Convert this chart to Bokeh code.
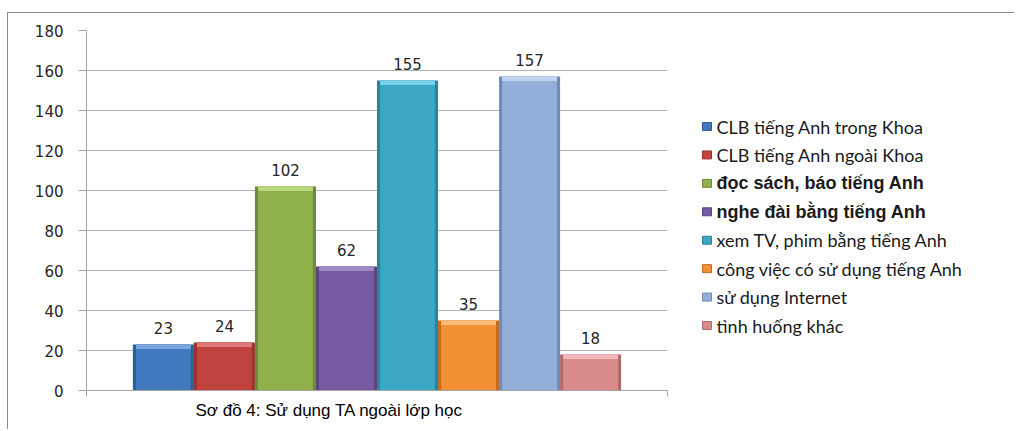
from bokeh.plotting import figure
from bokeh.models import (Range1d, FixedTicker, LabelSet, ColumnDataSource,
                          Title, CustomJSTickFormatter)
from bokeh.layouts import row
from bokeh.core.properties import value
from bokeh.embed import file_html
from bokeh.resources import INLINE

# ---- data ----
categories = [
    "CLB tiếng Anh trong Khoa",
    "CLB tiếng Anh ngoài Khoa",
    "đọc sách, báo tiếng Anh",
    "nghe đài bằng tiếng Anh",
    "xem TV, phim bằng tiếng Anh",
    "công việc có sử dụng tiếng Anh",
    "sử dụng Internet",
    "tình huống khác",
]
values = [23, 24, 102, 62, 155, 35, 157, 18]
y_ticks = [0, 20, 40, 60, 80, 100, 120, 140, 160, 180]
chart_title = "Sơ đồ 4: Sử dụng TA ngoài lớp học"

# ---- styles ----
fill_colors = ["#4279be", "#c0433f", "#8fb04b", "#7659a0",
               "#3ba7c2", "#f38f34", "#93afd9", "#d98b8c"]
edge_colors = ["#2f5d96", "#973331", "#6f8a39", "#5b4480",
               "#2c839a", "#c26c1f", "#6f8ab3", "#b06a6b"]
hi_colors = ["#7aa7e0", "#e07a78", "#b8d67a", "#a087c6",
             "#77d2ea", "#ffbb77", "#c1d5f1", "#f0b8b8"]
legend_fonts = ["Lato", "Lato", "Liberation Sans", "Liberation Sans",
                "Lato", "Lato", "Lato", "Lato"]
legend_sizes = ["18px", "18px", "18px", "18px", "18px", "18px", "18px", "18px"]
legend_styles = ["normal", "normal", "bold", "bold",
                 "normal", "normal", "normal", "normal"]

n = len(values)
pad = 0.76
src = ColumnDataSource(dict(
    x=[i + 0.5 for i in range(n)],
    top=values,
    hi_bottom=[v - 2.2 for v in values],
    label=[str(v) for v in values],
    fill=fill_colors, edge=edge_colors, hi=hi_colors,
))

H = 416
BT, BB = 17, 39          # top / bottom borders -> frame 360 px tall
p = figure(width=669, height=H,
           x_range=Range1d(-pad, n + pad), y_range=Range1d(0, 180),
           output_backend="svg", toolbar_location=None,
           min_border_left=78, min_border_right=10,
           min_border_top=BT, min_border_bottom=BB)
p.outline_line_color = None
p.background_fill_color = "white"
p.border_fill_color = "white"

p.xgrid.visible = False
p.ygrid.ticker = FixedTicker(ticks=y_ticks)
p.ygrid.grid_line_color = "#b4b4b4"
p.ygrid.grid_line_width = 1

# y axis
p.yaxis.ticker = FixedTicker(ticks=y_ticks)
p.yaxis.axis_line_color = "#a6a6a6"
p.yaxis.major_tick_line_color = "#a6a6a6"
p.yaxis.major_tick_out = 8
p.yaxis.major_tick_in = 0
p.yaxis.minor_tick_line_color = None
p.yaxis.major_label_standoff = 15
p.yaxis.major_label_text_font = "DejaVu Sans"
p.yaxis.major_label_text_font_size = "15px"
p.yaxis.major_label_text_color = "#262626"

# x axis (category boundaries only)
p.xaxis.ticker = FixedTicker(ticks=[-pad, n + pad])
p.xaxis.formatter = CustomJSTickFormatter(code="return ''")
p.xaxis.axis_line_color = "#a6a6a6"
p.xaxis.major_tick_line_color = "#a6a6a6"
p.xaxis.major_tick_out = 6
p.xaxis.major_tick_in = 0
p.xaxis.minor_tick_line_color = None
p.xaxis.major_label_standoff = 0

# bars with a simple bevel look
p.vbar(x="x", top="top", bottom=0, width=1.0, source=src,
       fill_color="edge", line_color=None)
p.vbar(x="x", top="top", bottom=0, width=0.9, source=src,
       fill_color="fill", line_color=None)
p.vbar(x="x", top="top", bottom="hi_bottom", width=0.9, source=src,
       fill_color="hi", line_color=None)

labels = LabelSet(x="x", y="top", text="label", source=src,
                  y_offset=11, text_align="center", text_baseline="alphabetic",
                  text_font=value("DejaVu Sans"), text_font_size=value("15px"),
                  text_color="#262626")
p.add_layout(labels)

# title under the plot
p.add_layout(Title(text=chart_title, align="left", offset=109,
                   text_font="Liberation Sans", text_font_size="17px",
                   text_font_style="normal", text_color="#000000",
                   standoff=4), "below")

# ---- legend panel (frame aligned with the main frame: 360 px tall) ----
frame_h = H - BT - BB
first_center = 126 - 30   # px from frame top
step = 28.43
lg = figure(width=337, height=H,
            x_range=Range1d(0, 337),
            y_range=Range1d((frame_h - first_center) / step, -first_center / step),
            x_axis_type=None, y_axis_type=None,
            output_backend="svg", toolbar_location=None,
            min_border_left=0, min_border_right=0,
            min_border_top=BT, min_border_bottom=BB)
lg.outline_line_color = None
lg.grid.visible = False
lg.background_fill_color = "white"
lg.border_fill_color = "white"

lsrc = ColumnDataSource(dict(
    idx=list(range(n)), label=categories,
    fill=fill_colors, edge=edge_colors,
    font=legend_fonts, size=legend_sizes, style=legend_styles,
))
lg.rect(x=29.5, y="idx", width=9, height=8, width_units="screen",
        height_units="screen", source=lsrc, fill_color="fill",
        line_color="edge", line_width=1)
lg.text(x=39, y="idx", text="label", source=lsrc,
        text_font="font", text_font_size="size", text_font_style="style",
        text_baseline="middle", text_align="left", text_color="#1a1a1a")

layout = row(p, lg)
layout.styles = {"border-left": "1px solid #8a8a8a",
                 "border-top": "1px solid #8a8a8a",
                 "margin-left": "7px", "margin-top": "12px"}

open("out.html", "w").write(file_html(layout, INLINE))
